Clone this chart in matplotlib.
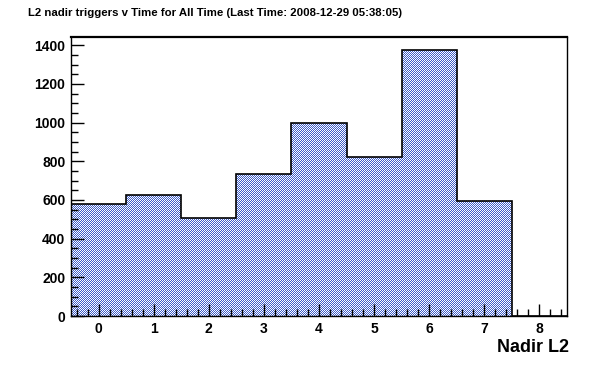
import numpy as np
import matplotlib
matplotlib.use("Agg")
import matplotlib.pyplot as plt
from matplotlib.ticker import MultipleLocator
from matplotlib.colors import ListedColormap

plt.rcParams['font.family'] = ['Liberation Sans', 'DejaVu Sans']

# histogram contents, one bin per nadir L2 value
bins = [0, 1, 2, 3, 4, 5, 6, 7, 8]
counts = [577, 625, 505, 733, 997, 821, 1374, 594, 0]
title = 'L2 nadir triggers v Time for All Time (Last Time: 2008-12-29 05:38:05)'
xlabel = 'Nadir L2'

edges = np.append(np.array(bins) - 0.5, bins[-1] + 0.5)

fig = plt.figure(figsize=(5.96, 3.72), dpi=100)
ax = fig.add_axes([71 / 596, 1 - 316 / 372, 496 / 596, 279 / 372])

ymax = max(counts) * 1.05
ax.set_xlim(edges[0], edges[-1])
ax.set_ylim(0, ymax)

# ROOT style pixel checker fill, clipped to the histogram shape
shape = ax.stairs(counts, edges, fill=True, facecolor='none', edgecolor='none')
ny, nx = 279, 496
yy, xx = np.indices((ny, nx))
checker = (xx + yy) % 2
img = ax.imshow(checker, extent=(edges[0], edges[-1], 0, ymax), origin='lower',
                aspect='auto', interpolation='nearest',
                cmap=ListedColormap(['white', '#3c5cc8']), zorder=1)
img.set_clip_path(shape)
ax.stairs(counts, edges, color='black', linewidth=1.2, zorder=2)

ax.xaxis.set_major_locator(MultipleLocator(1))
ax.xaxis.set_minor_locator(MultipleLocator(0.2))
ax.yaxis.set_major_locator(MultipleLocator(200))
ax.yaxis.set_minor_locator(MultipleLocator(50))
ax.tick_params(which='both', direction='in', top=False, right=False, width=1)
ax.tick_params(which='major', length=9, labelsize=10, pad=4)
ax.tick_params(which='minor', length=5)
for lab in ax.get_xticklabels() + ax.get_yticklabels():
    lab.set_fontweight('bold')

for side in ['left', 'bottom', 'right']:
    ax.spines[side].set_linewidth(1.0)
ax.spines['top'].set_linewidth(1.6)

fig.text(28 / 596, 1 - 13 / 372, title, fontsize=8.2, fontweight='bold',
         ha='left', va='center')
fig.text(569 / 596, 1 - 348 / 372, xlabel, fontsize=13, fontweight='bold',
         ha='right', va='center')

fig.savefig('out.png', dpi=100)
